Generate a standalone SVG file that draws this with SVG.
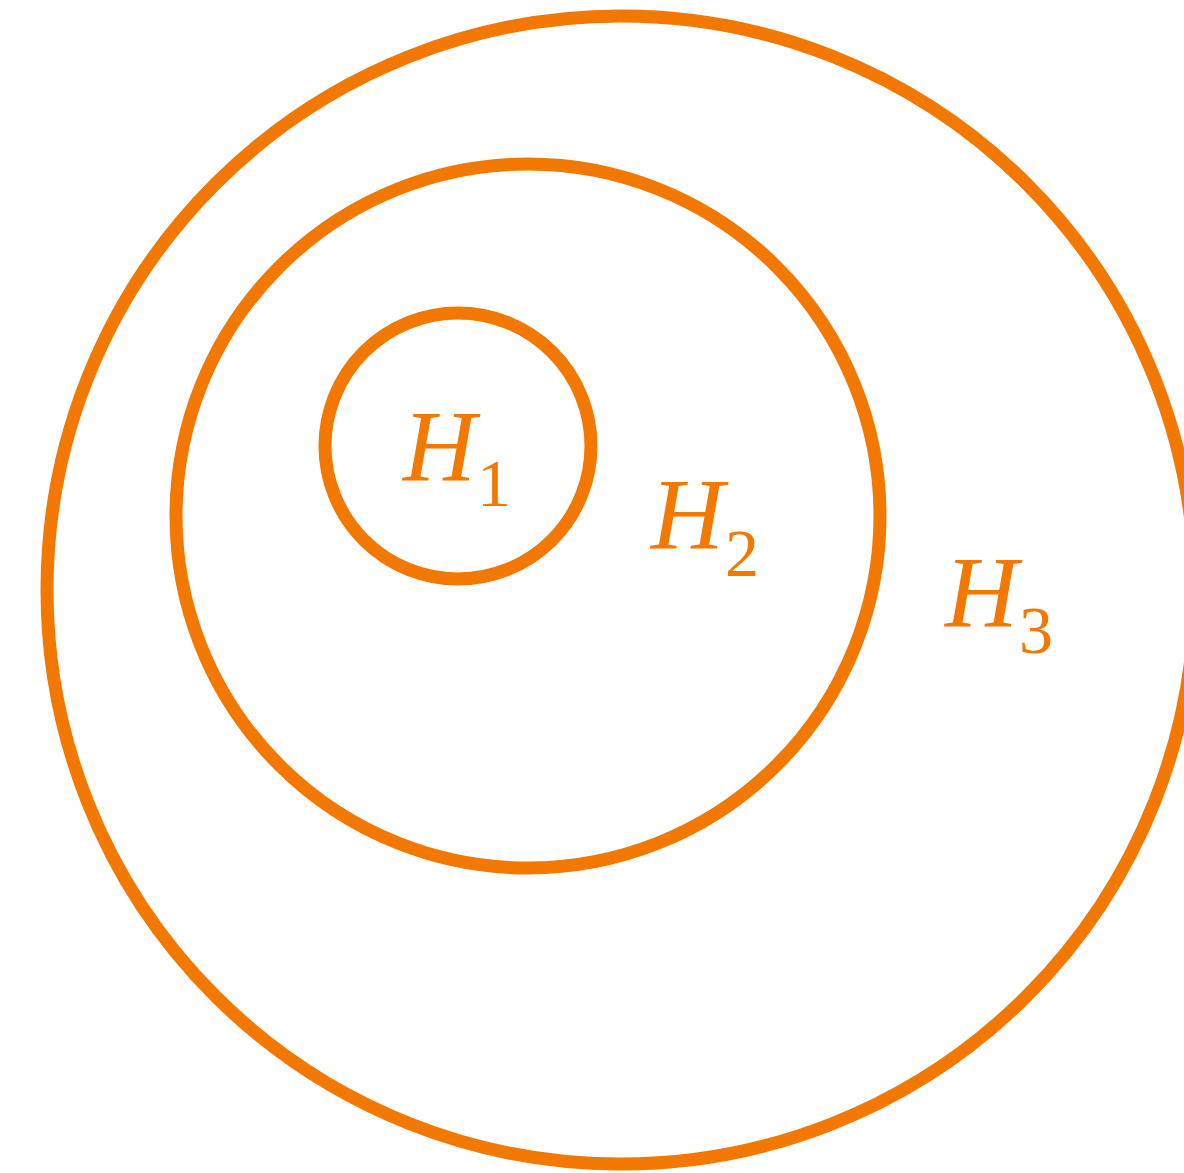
<svg xmlns="http://www.w3.org/2000/svg" width="1184" height="1173" viewBox="0 0 1184 1173">
<style>
.c{fill:none;stroke:#F27800;stroke-width:13}
.t{font-family:"Liberation Serif","Times New Roman",serif;fill:#F27800}
.h{font-style:italic;font-size:101px}
.s{font-size:68px}
</style>
<rect width="1184" height="1173" fill="#fff"/>
<g id="H3"><circle class="c" cx="621" cy="590" r="574"/><text class="t" x="945" y="627"><tspan class="h">H</tspan><tspan class="s" dx="1" dy="26">3</tspan></text></g>
<g id="H2"><circle class="c" cx="528" cy="516" r="352"/><text class="t" x="651" y="549"><tspan class="h">H</tspan><tspan class="s" dx="1" dy="27">2</tspan></text></g>
<g id="H1"><circle class="c" cx="458" cy="446" r="133"/><text class="t" x="403" y="481"><tspan class="h">H</tspan><tspan class="s" dx="1" dy="25">1</tspan></text></g>
<g id="connectors"/>
</svg>
